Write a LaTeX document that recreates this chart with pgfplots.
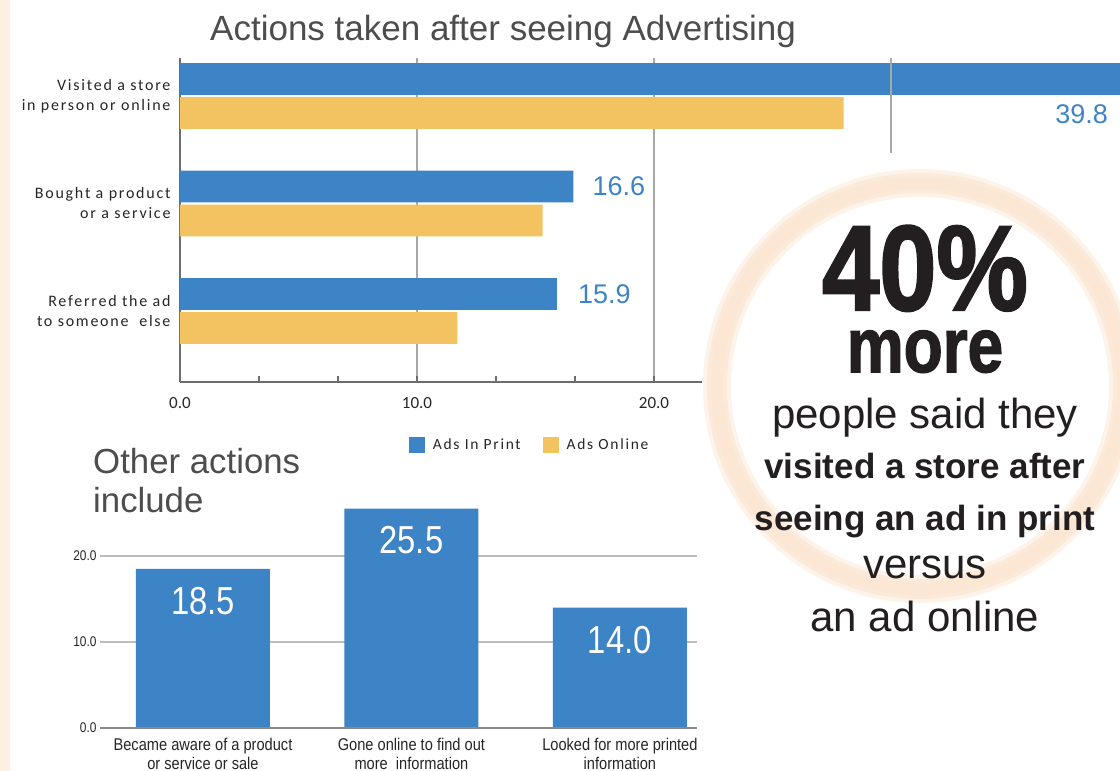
\documentclass[border=0pt]{standalone}
\usepackage{pgfplots}
\pgfplotsset{compat=1.18}
\usepackage{fontspec}
\usepackage{graphicx}
\setmainfont{Liberation Sans}
\newfontfamily\carl{Carlito}
\newfontfamily\carls[LetterSpace=11]{Carlito}
\newfontfamily\heavy[FakeBold=2]{Liberation Sans Bold}
\definecolor{cblue}{HTML}{3D84C6}
\definecolor{cyellow}{HTML}{F3C261}
\definecolor{axisgray}{HTML}{6D6D6D}
\definecolor{gridgray}{HTML}{A8A8A8}
\definecolor{lightgrid}{HTML}{BDBDBD}
\definecolor{titlegray}{HTML}{4D4D4D}
\definecolor{labelcol}{HTML}{262626}
\definecolor{ink}{HTML}{231F20}
\definecolor{beige}{HTML}{FDF0E1}
\definecolor{peach}{HTML}{FBE5CF}
\newcommand\cond[1]{\scalebox{0.86}[1]{\begin{tabular}{@{}c@{}}#1\end{tabular}}}
\begin{document}
\begin{tikzpicture}
\useasboundingbox (0,0) rectangle (1120pt,-771pt);
\fill[white] (0,0) rectangle (1120pt,-771pt);
\fill[beige] (0,0) rectangle (10pt,-771pt);

\node[anchor=base west, inner sep=0, text=titlegray, font=\fontsize{35}{40}\selectfont] at (210pt,-40pt) {Actions taken after seeing Advertising};

\begin{axis}[at={(180pt,-382pt)}, anchor=south west, scale only axis,
  width=940pt, height=324pt,
  xbar, bar width=0.295,
  xmin=0, xmax=39.66, y dir=reverse, ymin=-0.353, ymax=2.66,
  axis lines*=left, axis line style={draw=axisgray, line width=2.5pt},
  xtick={0,10,20}, xticklabels={0.0,10.0,20.0},
  minor xtick={3.333,6.667,13.333,16.667},
  xmajorgrids, major grid style={draw=gridgray, line width=1.5pt},
  xtick style={draw=axisgray, line width=1.2pt}, tick align=inside,
  major tick length=6pt, minor tick length=6pt,
  ytick={0,1,2},
  yticklabels={{Visited a store\\in person or online},{Bought a product\\or a service},{Referred the ad\\to someone\ \ else}},
  ytick style={draw=none},
  yticklabel style={align=right, font=\carls\fontsize{16}{20}\selectfont, text=labelcol, xshift=-6pt},
  xticklabel style={font=\carl\fontsize{17}{20}\selectfont, text=labelcol, yshift=-12pt},
  legend style={at={(0.372,-0.194)}, anchor=center, draw=none, fill=none,
    legend columns=2, font=\carls\fontsize{15.5}{18}\selectfont, text=labelcol,
    /tikz/every odd column/.append style={column sep=6pt},
    /tikz/every even column/.append style={column sep=20pt}},
  legend image code/.code={\fill[#1] (0pt,-8pt) rectangle (16pt,8pt);},
]
\addplot[fill=cblue, draw=none, bar shift=-0.158] coordinates {(39.8,0) (16.6,1) (15.9,2)};
\addplot[fill=cyellow, draw=none, bar shift=0.158] coordinates {(28.0,0) (15.3,1) (11.7,2)};
\legend{Ads In Print, Ads Online}
\draw[gridgray, line width=1.5pt] (axis cs:30,-0.353) -- (axis cs:30,0.53);
\node[anchor=west, inner sep=0, xshift=19pt, text=cblue, font=\fontsize{27}{30}\selectfont] at (axis cs:16.6,0.842) {16.6};
\node[anchor=west, inner sep=0, xshift=21pt, text=cblue, font=\fontsize{27}{30}\selectfont] at (axis cs:15.9,1.842) {15.9};
\end{axis}
\node[anchor=east, inner sep=0, text=cblue, font=\fontsize{27}{30}\selectfont] at (1108pt,-114pt) {39.8};

\node[anchor=base west, inner sep=0, text=titlegray, font=\fontsize{34.8}{39}\selectfont] at (93pt,-473pt) {Other actions};
\node[anchor=base west, inner sep=0, text=titlegray, font=\fontsize{34.8}{39}\selectfont] at (93pt,-512pt) {include};

\begin{axis}[at={(100pt,-728pt)}, anchor=south west, scale only axis,
  width=597pt, height=223.6pt,
  ybar, bar width=0.643, bar shift=0pt,
  xmin=-0.494, xmax=2.37, ymin=0, ymax=26,
  axis line style={draw=none}, tick style={draw=none},
  ytick={0,10,20}, yticklabels={\scalebox{0.85}[1]{0.0},\scalebox{0.85}[1]{10.0},\scalebox{0.85}[1]{20.0}},
  ymajorgrids, major grid style={draw=lightgrid, line width=1.3pt},
  yticklabel style={font=\fontsize{14}{16}\selectfont, text=labelcol},
  xtick={0,1,2},
  xticklabels={\cond{Became aware of a product\\or service or sale},\cond{Gone online to find out\\more\ \ information},\cond{Looked for more printed\\information}},
  xticklabel style={font=\fontsize{17}{19}\selectfont, text=labelcol, yshift=-1pt},
]
\addplot[fill=cblue, draw=none] coordinates {(0,18.5) (1,25.5) (2,14.0)};
\draw[axisgray!80, line width=1.3pt] (axis cs:-0.494,0) -- (axis cs:2.37,0);
\node[text=white, inner sep=0, yshift=-32pt, font=\fontsize{39}{40}\selectfont] at (axis cs:0,18.5) {\scalebox{0.84}[1]{18.5}};
\node[text=white, inner sep=0, yshift=-31pt, font=\fontsize{39}{40}\selectfont] at (axis cs:1,25.5) {\scalebox{0.84}[1]{25.5}};
\node[text=white, inner sep=0, yshift=-32pt, font=\fontsize{39}{40}\selectfont] at (axis cs:2,14.0) {\scalebox{0.84}[1]{14.0}};
\end{axis}
\fill[white] (697pt,-736pt) rectangle (740pt,-771pt);

% circle callout
\fill[white] (920pt,-386pt) circle (218pt);
\draw[peach, line width=28pt, opacity=0.45] (920pt,-386pt) circle (203pt);
\draw[peach, line width=20pt, opacity=0.6] (920pt,-386pt) circle (203pt);
\draw[peach, line width=12pt, opacity=0.6] (920pt,-386pt) circle (203pt);

\node[anchor=base, inner sep=0, text=ink, font=\heavy\fontsize{121}{121}\selectfont] at (925pt,-310pt) {\scalebox{0.85}[1]{40\%}};
\node[anchor=base, inner sep=0, text=ink, font=\heavy\fontsize{77}{77}\selectfont] at (925pt,-372pt) {\scalebox{0.83}[1]{more}};
\node[anchor=base, inner sep=0, text=ink, font=\fontsize{42}{42}\selectfont] at (925pt,-428pt) {people said they};
\node[anchor=base, inner sep=0, text=ink, font=\bfseries\fontsize{35}{35}\selectfont] at (925pt,-478pt) {visited a store after};
\node[anchor=base, inner sep=0, text=ink, font=\bfseries\fontsize{35}{35}\selectfont] at (925pt,-530pt) {seeing an ad in print};
\node[anchor=base, inner sep=0, text=ink, font=\fontsize{42}{42}\selectfont] at (925pt,-578pt) {versus};
\node[anchor=base, inner sep=0, text=ink, font=\fontsize{42}{42}\selectfont] at (925pt,-631pt) {an ad online};
\end{tikzpicture}
\end{document}
